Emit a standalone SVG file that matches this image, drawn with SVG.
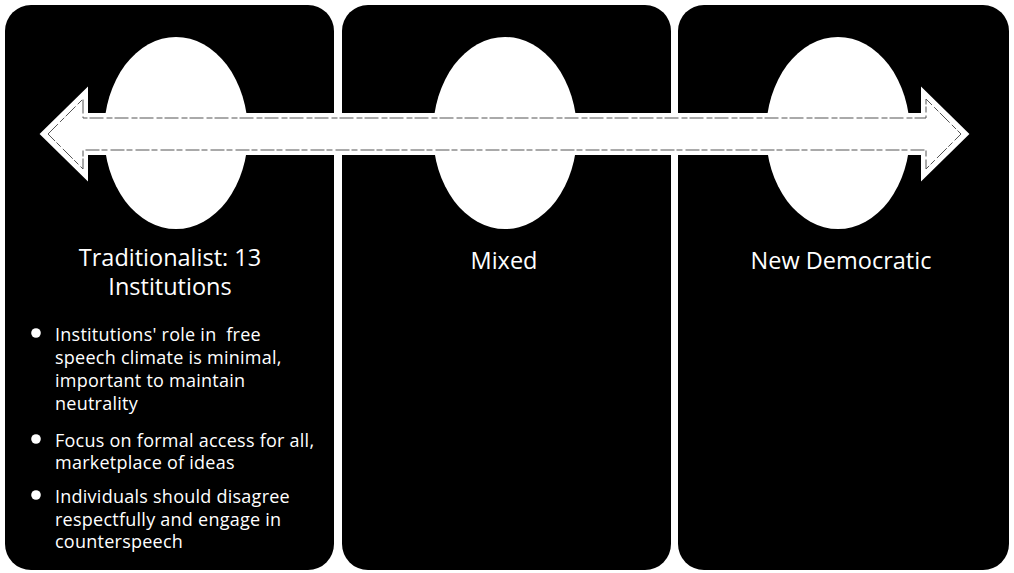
<svg xmlns="http://www.w3.org/2000/svg" width="1014" height="573" viewBox="0 0 1014 573">
<style>
.panel{fill:#000;}
.oval{fill:#fff;}
.head{font-family:"Open Sans","Liberation Sans",sans-serif;font-size:23.5px;fill:#fff;text-anchor:middle;font-variant-ligatures:none;}
.body{font-family:"Open Sans","Liberation Sans",sans-serif;font-size:18px;letter-spacing:0.25px;fill:#fff;font-variant-ligatures:none;}
.dot{fill:#fff;}
.arrow-out{fill:#fff;stroke:#fff;stroke-width:2;stroke-linejoin:miter;}
.arrow-in{fill:none;stroke:#555;stroke-width:1;stroke-dasharray:14 3 6 2;}
</style>
<rect x="0" y="0" width="1014" height="573" fill="#fff"/>
<g id="panel-traditionalist">
<rect class="panel" x="5" y="5" width="329" height="565" rx="26"/>
<ellipse class="oval" cx="176" cy="133" rx="72" ry="96"/>
</g>
<g id="panel-mixed">
<rect class="panel" x="342" y="5" width="329" height="565" rx="26"/>
<ellipse class="oval" cx="505" cy="133" rx="72" ry="96"/>
</g>
<g id="panel-newdemocratic">
<rect class="panel" x="678" y="5" width="331" height="565" rx="26"/>
<ellipse class="oval" cx="838" cy="133" rx="72" ry="96"/>
</g>
<g id="connectors">
<polygon class="arrow-out" points="41,134 87,89 87,114 922,114 922,89 968,134 922,179 922,154 87,154 87,179"/>
<polygon class="arrow-in" points="48,134 83,99 83,118 926,118 926,99 961,134 926,169 926,150 83,150 83,169"/>
</g>
<g id="label-traditionalist">
<text class="head" x="170" y="266">Traditionalist: 13</text>
<text class="head" x="170" y="295">Institutions</text>
<circle class="dot" cx="36" cy="333" r="4.8"/>
<text class="body" x="55" y="341" xml:space="preserve">Institutions' role in  free</text>
<text class="body" x="55" y="364">speech climate is minimal,</text>
<text class="body" x="55" y="387">important to maintain</text>
<text class="body" x="55" y="410">neutrality</text>
<circle class="dot" cx="36" cy="439" r="4.8"/>
<text class="body" x="55" y="447">Focus on formal access for all,</text>
<text class="body" x="55" y="469">marketplace of ideas</text>
<circle class="dot" cx="36" cy="495" r="4.8"/>
<text class="body" x="55" y="503">Individuals should disagree</text>
<text class="body" x="55" y="526">respectfully and engage in</text>
<text class="body" x="55" y="548">counterspeech</text>
</g>
<g id="label-mixed">
<text class="head" x="504" y="269">Mixed</text>
</g>
<g id="label-newdemocratic">
<text class="head" x="841" y="269">New Democratic</text>
</g>
</svg>
